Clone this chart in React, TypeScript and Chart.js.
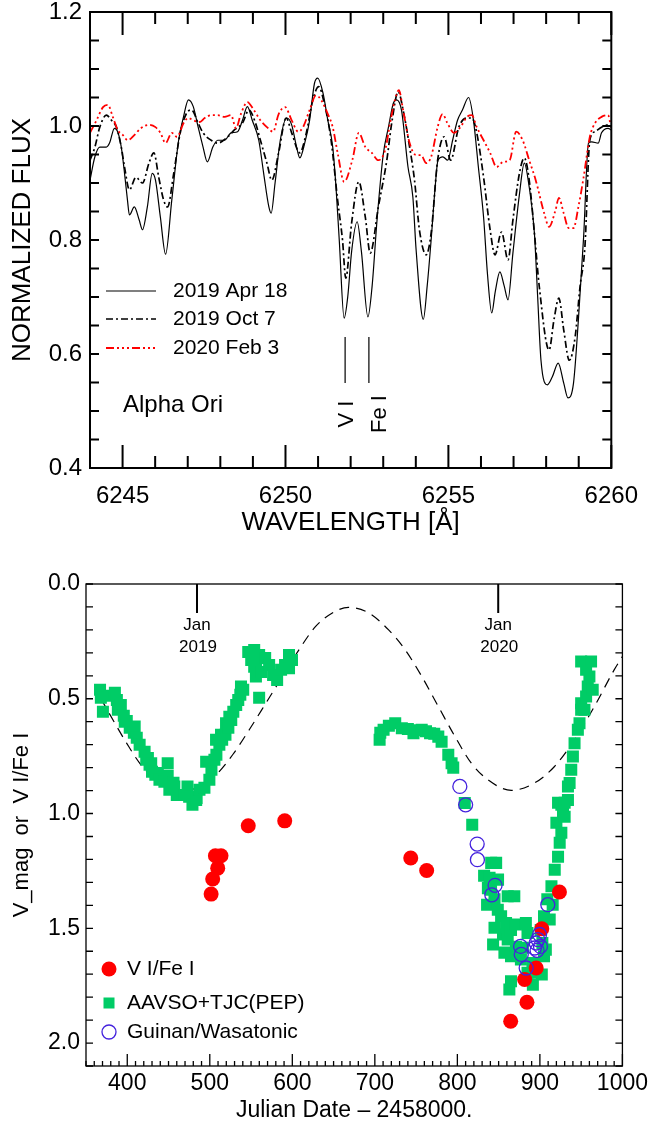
import React, { useEffect, useRef } from 'react';
import { Chart, registerables } from 'chart.js';

Chart.register(...registerables);

const FONT = "'Liberation Sans', Arial, Helvetica, sans-serif";

// ---------------- top panel: spectra ----------------
const waveApr = [6244.00, 6244.15, 6244.30, 6244.50, 6244.60, 6244.75, 6244.85, 6244.96, 6245.06, 6245.15,
  6245.21, 6245.36, 6245.51, 6245.61, 6245.76, 6245.91, 6246.01, 6246.16, 6246.32, 6246.51,
  6246.72, 6246.87, 6247.02, 6247.17, 6247.32, 6247.47, 6247.60, 6247.77, 6247.92, 6248.13,
  6248.33, 6248.53, 6248.68, 6248.83, 6248.98, 6249.18, 6249.33, 6249.49, 6249.56, 6249.68,
  6249.84, 6250.04, 6250.19, 6250.34, 6250.44, 6250.59, 6250.74, 6250.89, 6250.99, 6251.15,
  6251.30, 6251.45, 6251.55, 6251.65, 6251.80, 6251.91, 6252.03, 6252.20, 6252.33, 6252.53,
  6252.66, 6252.81, 6253.00, 6253.16, 6253.31, 6253.41, 6253.56, 6253.76, 6253.91, 6254.01,
  6254.23, 6254.35, 6254.47, 6254.59, 6254.68, 6254.83, 6254.98, 6255.13, 6255.28, 6255.43,
  6255.62, 6255.77, 6255.92, 6256.08, 6256.20, 6256.33, 6256.44, 6256.58, 6256.71, 6256.83,
  6256.98, 6257.18, 6257.33, 6257.48, 6257.64, 6257.74, 6257.84, 6258.04, 6258.19, 6258.37,
  6258.54, 6258.67, 6258.84, 6258.99, 6259.15, 6259.30, 6259.40, 6259.60, 6259.70, 6259.90, 6260.00];
const fluxApr = [0.905, 0.946, 0.963, 0.963, 0.97, 0.996, 0.99, 0.963, 0.917, 0.87,
  0.844, 0.858, 0.835, 0.818, 0.858, 0.917, 0.905, 0.84, 0.775, 0.87,
  0.975, 1.016, 1.046, 1.034, 0.998, 0.963, 0.937, 0.963, 0.975, 0.975,
  0.988, 0.99, 1.01, 1.034, 1.01, 0.975, 0.917, 0.858, 0.847, 0.90,
  0.975, 1.014, 1.002, 0.963, 0.944, 0.97, 1.01, 1.075, 1.084, 1.058,
  1.01, 0.963, 0.893, 0.80, 0.663, 0.70, 0.78, 0.832, 0.78, 0.665,
  0.72, 0.835, 0.95, 0.998, 1.04, 1.046, 1.028, 0.928, 0.875, 0.782,
  0.661, 0.72, 0.80, 0.89, 0.94, 0.946, 0.94, 0.975, 1.01, 1.028,
  1.05, 1.01, 0.928, 0.84, 0.74, 0.672, 0.71, 0.744, 0.72, 0.695,
  0.777, 0.88, 0.935, 0.893, 0.812, 0.70, 0.59, 0.546, 0.56, 0.584,
  0.549, 0.523, 0.549, 0.66, 0.805, 0.97, 0.972, 0.97, 0.988, 0.996, 0.993];

const waveOct = [6244.00, 6244.15, 6244.30, 6244.50, 6244.66, 6244.81, 6244.96, 6245.06, 6245.21, 6245.41,
  6245.61, 6245.81, 6245.96, 6246.11, 6246.26, 6246.38, 6246.57, 6246.77, 6246.97, 6247.12,
  6247.32, 6247.47, 6247.72, 6247.92, 6248.23, 6248.43, 6248.68, 6248.88, 6249.08, 6249.23,
  6249.43, 6249.58, 6249.79, 6250.02, 6250.19, 6250.44, 6250.64, 6250.84, 6251.02, 6251.19,
  6251.40, 6251.60, 6251.75, 6251.85, 6252.03, 6252.25, 6252.45, 6252.60, 6252.85, 6253.11,
  6253.26, 6253.46, 6253.61, 6253.81, 6253.96, 6254.11, 6254.32, 6254.47, 6254.67, 6254.87,
  6255.07, 6255.32, 6255.57, 6255.72, 6255.87, 6256.08, 6256.28, 6256.43, 6256.63, 6256.83,
  6256.98, 6257.18, 6257.33, 6257.48, 6257.64, 6257.79, 6258.09, 6258.24, 6258.39, 6258.54,
  6258.71, 6258.89, 6259.04, 6259.19, 6259.34, 6259.50, 6259.70, 6259.90, 6260.00];
const fluxOct = [0.94, 0.963, 0.998, 1.019, 1.01, 0.998, 0.963, 0.928, 0.888, 0.91,
  0.90, 0.935, 0.953, 0.91, 0.87, 0.858, 0.917, 0.988, 1.023, 1.028,
  1.005, 0.988, 0.975, 0.97, 0.981, 0.993, 1.005, 1.028, 1.005, 0.975,
  0.935, 0.905, 0.953, 1.014, 0.988, 0.953, 0.988, 1.046, 1.069, 1.04,
  0.975, 0.87, 0.80, 0.733, 0.83, 0.902, 0.84, 0.777, 0.858, 0.94,
  1.005, 1.06, 1.028, 0.963, 0.905, 0.818, 0.774, 0.812, 0.94, 0.981,
  0.94, 0.998, 1.014, 1.014, 0.988, 0.91, 0.818, 0.774, 0.814, 0.765,
  0.835, 0.917, 0.944, 0.905, 0.812, 0.718, 0.607, 0.66, 0.698, 0.642,
  0.589, 0.63, 0.718, 0.788, 0.975, 0.99, 0.998, 1.002, 0.998];

const waveFeb = [6244.00, 6244.20, 6244.40, 6244.55, 6244.70, 6244.85, 6245.01, 6245.16, 6245.36, 6245.56,
  6245.81, 6246.01, 6246.16, 6246.32, 6246.51, 6246.67, 6246.87, 6247.02, 6247.17, 6247.37,
  6247.52, 6247.72, 6247.92, 6248.13, 6248.33, 6248.48, 6248.63, 6248.83, 6249.03, 6249.23,
  6249.43, 6249.62, 6249.79, 6249.99, 6250.19, 6250.39, 6250.54, 6250.74, 6250.94, 6251.09,
  6251.30, 6251.45, 6251.60, 6251.80, 6252.05, 6252.25, 6252.45, 6252.65, 6252.85, 6253.06,
  6253.21, 6253.36, 6253.48, 6253.61, 6253.81, 6254.01, 6254.16, 6254.32, 6254.47, 6254.67,
  6254.82, 6254.97, 6255.17, 6255.37, 6255.57, 6255.72, 6255.87, 6256.08, 6256.28, 6256.48,
  6256.68, 6256.88, 6257.08, 6257.28, 6257.48, 6257.68, 6257.94, 6258.09, 6258.29, 6258.39,
  6258.54, 6258.69, 6258.84, 6258.99, 6259.15, 6259.34, 6259.50, 6259.70, 6259.90, 6260.00];
const fluxFeb = [0.988, 1.01, 1.033, 1.037, 1.016, 0.993, 0.984, 0.975, 0.984, 0.996,
  1.002, 0.998, 0.988, 0.97, 0.988, 0.981, 1.005, 1.014, 1.01, 1.007,
  1.014, 1.019, 1.019, 1.016, 1.019, 0.996, 1.021, 1.042, 1.028, 1.01,
  0.998, 0.99, 1.021, 1.033, 1.01, 0.99, 0.998, 1.028, 1.054, 1.046,
  1.021, 0.998, 0.953, 0.902, 0.94, 0.988, 0.963, 0.953, 0.94, 0.958,
  1.005, 1.046, 1.063, 1.028, 0.97, 0.949, 0.949, 0.935, 0.946, 0.998,
  1.021, 1.005, 0.988, 0.998, 1.016, 1.019, 0.998, 0.975, 0.953, 0.928,
  0.937, 0.94, 0.99, 0.975, 0.94, 0.905, 0.847, 0.823, 0.853, 0.874,
  0.847, 0.821, 0.821, 0.858, 0.91, 0.981, 1.005, 1.016, 1.019, 0.995];

const topSeriesLabels = ['2019 Apr 18', '2019 Oct 7', '2020 Feb 3'];
const topXRange = [6244, 6260];
const topYRange = [0.4, 1.2];
const starName = 'Alpha Ori';
const lineIdWave = [6251.83, 6252.56];
const lineIdNames = ['V I', 'Fe I'];
const lineIdFlux = [0.549, 0.63];

// ---------------- bottom panel: light curve ----------------
const vfePoints: [number, number][] = [
  [501.6, 1.351], [503.5, 1.285], [509.6, 1.238], [506.8, 1.184], [513.6, 1.184], [546.6, 1.053],
  [590.8, 1.032], [743.5, 1.194], [762.8, 1.248], [864.6, 1.905], [884.3, 1.822], [881.5, 1.723],
  [895.5, 1.673], [902.3, 1.502], [923.7, 1.342]];

const aavsoPoints: [number, number][] = [
  [367, 0.461], [368, 0.496], [370.5, 0.557], [379, 0.487], [385, 0.474], [387.4, 0.505], [388.6, 0.548],
  [392.2, 0.527], [395.8, 0.574], [397, 0.6], [399.4, 0.597], [403, 0.626], [408, 0.648], [409, 0.621],
  [411.5, 0.67], [415, 0.7], [421, 0.731], [423, 0.766], [425, 0.758], [427, 0.787], [429, 0.781],
  [430, 0.818], [434, 0.831], [437, 0.824], [439, 0.853], [445, 0.862], [449, 0.836], [449, 0.781],
  [451, 0.896], [456, 0.866], [457, 0.882], [460, 0.919], [469, 0.919], [473, 0.882], [475, 0.927],
  [479, 0.962], [483.5, 0.941], [484, 0.932], [487.5, 0.896], [493.5, 0.888], [495.6, 0.774],
  [499.5, 0.853], [502, 0.809], [505.6, 0.766], [507.6, 0.679], [508, 0.744], [511.6, 0.7],
  [513.6, 0.657], [515, 0.679], [519, 0.657], [519.7, 0.607], [522.5, 0.626], [523.7, 0.578],
  [526, 0.592], [528.5, 0.557], [532, 0.527], [534.5, 0.505], [537, 0.483], [537.8, 0.447],
  [540.5, 0.461], [546.6, 0.296], [550.2, 0.331], [553.8, 0.288], [553.8, 0.36], [555.9, 0.403],
  [556.2, 0.366], [559.8, 0.309], [559.8, 0.496], [562.3, 0.383], [567.1, 0.322], [571.9, 0.353],
  [576.7, 0.396], [581.6, 0.418], [586.4, 0.374], [591.2, 0.353], [596, 0.309], [596, 0.367],
  [599.6, 0.331],
  [705.8, 0.679], [706.6, 0.648], [710.6, 0.635], [717, 0.618], [724.7, 0.607], [732.7, 0.628],
  [740, 0.632], [746.8, 0.65], [752, 0.637], [756.8, 0.635], [762, 0.642], [766.9, 0.65], [772, 0.652],
  [776.9, 0.665], [780.9, 0.687], [789, 0.744], [793, 0.781], [795, 0.8], [809, 0.954], [818, 1.049],
  [832.4, 1.271], [836, 1.397], [837, 1.325], [839, 1.28], [840.8, 1.332], [841, 1.215], [843.3, 1.571],
  [845, 1.373], [845, 1.498], [847, 1.215], [849, 1.419], [849.3, 1.288], [853, 1.448], [855.3, 1.527],
  [857, 1.606], [859, 1.477], [861, 1.36], [861, 1.549], [863, 1.767], [865, 1.507], [865, 1.622],
  [865, 1.731], [869, 1.36], [871, 1.581], [871, 1.484], [877, 1.636], [879.4, 1.585], [883, 1.477],
  [885, 1.521], [885, 1.694], [891, 1.651], [891.5, 1.746], [893, 1.694], [901, 1.507], [902.3, 1.701],
  [903, 1.564], [905, 1.622], [905, 1.448], [907.2, 1.593], [909, 1.373], [911.9, 1.462], [914, 1.317],
  [915.5, 1.397], [918, 1.245], [920, 1.04], [922, 1.188], [922, 0.953], [924, 1.127], [926, 1.084],
  [926, 0.962], [928, 0.997], [930, 0.953], [930, 1.014], [934, 0.941], [934, 0.882], [936, 0.867],
  [938, 0.809], [940, 0.752], [942, 0.694], [946, 0.635], [948, 0.607], [950, 0.548], [950, 0.52],
  [954, 0.548], [956, 0.49], [958, 0.447], [960, 0.403], [956, 0.374], [950, 0.338], [962, 0.338],
  [964, 0.461]];

const guinanPoints: [number, number][] = [
  [803, 0.882], [810, 0.962], [824, 1.133], [824.3, 1.201], [845.7, 1.313], [841.7, 1.354],
  [909.6, 1.397], [876.6, 1.579], [877.4, 1.614], [883.4, 1.673], [893.5, 1.586], [895.5, 1.564],
  [897.5, 1.549], [899.6, 1.527], [900.7, 1.579], [896.6, 1.596]];

const modelCurve: [number, number][] = [
  [368, 0.499], [385, 0.607], [399, 0.692], [415, 0.78], [435, 0.853], [455, 0.892], [471.5, 0.899],
  [487.5, 0.882], [507.6, 0.831], [527.7, 0.744], [547.8, 0.635], [568, 0.519], [588, 0.403],
  [608, 0.287], [628, 0.186], [648, 0.127], [668, 0.102], [692.6, 0.126], [716.7, 0.2],
  [736.8, 0.287], [756.9, 0.403], [777, 0.534], [797, 0.664], [817, 0.781], [837, 0.853],
  [865.4, 0.899], [893.5, 0.867], [917.7, 0.795], [941.8, 0.679], [966, 0.534], [990, 0.374],
  [1000, 0.316]];

const bottomSeriesLabels = ['V I/Fe I', 'AAVSO+TJC(PEP)', 'Guinan/Wasatonic'];
const janJD = [484.5, 849.5];
const janLabels = [['Jan', '2019'], ['Jan', '2020']];
const bottomXRange = [350, 1000];
const bottomYRange = [0, 2.1];

const RED = '#ff0000';
const GREEN = '#00cc66';
const BLUE = '#4422dd';
const DASH_OCT = [7, 3, 2, 3];
const DASH_FEB = [8, 3, 2, 3, 2, 3, 2, 3];

const TOP_SHIFT = 20; // top canvas starts 20px above the page

const topPlugin = {
  id: 'topDecor',
  afterDraw(chart: any) {
    const { ctx, chartArea: ca } = chart;
    const xs = chart.scales.x;
    const ys = chart.scales.y;
    ctx.save();
    ctx.strokeStyle = '#000';
    ctx.setLineDash([]);
    ctx.lineWidth = 2;
    ctx.strokeRect(ca.left, ca.top, ca.right - ca.left, ca.bottom - ca.top);
    ctx.beginPath();
    for (let v = topXRange[0]; v <= topXRange[1]; v += 1) {
      const px = xs.getPixelForValue(v);
      const len = v % 5 === 0 ? 23 : 12;
      ctx.moveTo(px, ca.bottom); ctx.lineTo(px, ca.bottom - len);
      ctx.moveTo(px, ca.top); ctx.lineTo(px, ca.top + len);
    }
    for (let k = 0; k <= 16; k++) {
      const py = ys.getPixelForValue(topYRange[0] + k * 0.05);
      ctx.moveTo(ca.left, py); ctx.lineTo(ca.left + 9, py);
      ctx.moveTo(ca.right, py); ctx.lineTo(ca.right - 9, py);
    }
    ctx.stroke();

    // legend
    const ds = chart.data.datasets;
    const ly = [291, 319, 348];
    ctx.font = `21px ${FONT}`;
    ctx.textBaseline = 'middle';
    ctx.textAlign = 'left';
    for (let i = 0; i < 3; i++) {
      const y = ly[i] + TOP_SHIFT;
      ctx.beginPath();
      ctx.strokeStyle = ds[i].borderColor;
      ctx.lineWidth = ds[i].borderWidth;
      ctx.setLineDash(ds[i].borderDash || []);
      ctx.moveTo(106, y); ctx.lineTo(156, y);
      ctx.stroke();
      ctx.fillStyle = '#000';
      ctx.fillText(topSeriesLabels[i], 173, y);
    }
    ctx.setLineDash([]);
    ctx.font = `24px ${FONT}`;
    ctx.fillText(starName, 123, 405 + TOP_SHIFT);

    // line identifications
    ctx.strokeStyle = '#000';
    ctx.lineWidth = 1.2;
    ctx.beginPath();
    for (let i = 0; i < lineIdWave.length; i++) {
      const px = xs.getPixelForValue(lineIdWave[i]);
      ctx.moveTo(px, ys.getPixelForValue(lineIdFlux[1]));
      ctx.lineTo(px, ys.getPixelForValue(lineIdFlux[0]));
    }
    ctx.stroke();
    ctx.font = `22px ${FONT}`;
    ctx.textAlign = 'center';
    const labelX = [347, 380];
    for (let i = 0; i < lineIdNames.length; i++) {
      ctx.save();
      ctx.translate(labelX[i], 414 + TOP_SHIFT);
      ctx.rotate(-Math.PI / 2);
      ctx.fillText(lineIdNames[i], 0, 0);
      ctx.restore();
    }
    ctx.restore();
  },
};

const BOT_TOP = 545;

const bottomPlugin = {
  id: 'bottomDecor',
  afterDraw(chart: any) {
    const { ctx, chartArea: ca } = chart;
    const xs = chart.scales.x;
    const ys = chart.scales.y;
    ctx.save();
    ctx.strokeStyle = '#000';
    ctx.setLineDash([]);
    ctx.lineWidth = 1.3;
    ctx.strokeRect(ca.left, ca.top, ca.right - ca.left, ca.bottom - ca.top);
    ctx.beginPath();
    for (let v = bottomXRange[0]; v <= bottomXRange[1]; v += 10) {
      const px = xs.getPixelForValue(v);
      const len = v % 100 === 0 ? 12 : 5;
      ctx.moveTo(px, ca.bottom); ctx.lineTo(px, ca.bottom - len);
    }
    for (let k = 0; k <= 21; k++) {
      const py = ys.getPixelForValue(k / 10);
      ctx.moveTo(ca.left, py); ctx.lineTo(ca.left + 7, py);
      ctx.moveTo(ca.right, py); ctx.lineTo(ca.right - 7, py);
    }
    ctx.stroke();

    // year markers
    ctx.lineWidth = 2;
    ctx.beginPath();
    janJD.forEach((jd) => {
      const px = xs.getPixelForValue(jd);
      ctx.moveTo(px, ca.top); ctx.lineTo(px, ca.top + 29);
    });
    ctx.stroke();
    ctx.fillStyle = '#000';
    ctx.font = `17px ${FONT}`;
    ctx.textAlign = 'center';
    ctx.textBaseline = 'middle';
    janJD.forEach((jd, i) => {
      const px = xs.getPixelForValue(jd);
      ctx.fillText(janLabels[i][0], px, ca.top + 41);
      ctx.fillText(janLabels[i][1], px + 1, ca.top + 63);
    });

    // legend
    const ly = [969, 1003, 1032].map((v) => v - BOT_TOP);
    const mx = 109;
    ctx.fillStyle = RED;
    ctx.beginPath(); ctx.arc(mx, ly[0], 7.5, 0, Math.PI * 2); ctx.fill();
    ctx.fillStyle = GREEN;
    ctx.fillRect(mx - 5.5, ly[1] - 5.5, 11, 11);
    ctx.strokeStyle = BLUE; ctx.lineWidth = 1.3;
    ctx.beginPath(); ctx.arc(mx, ly[2], 7, 0, Math.PI * 2); ctx.stroke();
    ctx.fillStyle = '#000';
    ctx.font = `21px ${FONT}`;
    ctx.textAlign = 'left';
    for (let i = 0; i < 3; i++) ctx.fillText(bottomSeriesLabels[i], 127, ly[i]);
    ctx.restore();
  },
};

const toXY = (w: number[], f: number[]) => w.map((x, i) => ({ x, y: f[i] }));
const pairsXY = (p: [number, number][]) => p.map(([x, y]) => ({ x, y }));

export default function App() {
  const topRef = useRef<HTMLCanvasElement>(null);
  const botRef = useRef<HTMLCanvasElement>(null);

  useEffect(() => {
    const tickFontTop = { family: FONT, size: 24 };
    const tickFontBot = { family: FONT, size: 23 };
    const top = new Chart(topRef.current as HTMLCanvasElement, {
      type: 'line',
      data: {
        datasets: [
          { label: topSeriesLabels[0], data: toXY(waveApr, fluxApr), borderColor: '#000', borderWidth: 1.2,
            pointRadius: 0, cubicInterpolationMode: 'monotone', order: 3 } as any,
          { label: topSeriesLabels[1], data: toXY(waveOct, fluxOct), borderColor: '#000', borderWidth: 1.7,
            borderDash: DASH_OCT, pointRadius: 0, cubicInterpolationMode: 'monotone', order: 2 } as any,
          { label: topSeriesLabels[2], data: toXY(waveFeb, fluxFeb), borderColor: RED, borderWidth: 1.8,
            borderDash: DASH_FEB, pointRadius: 0, cubicInterpolationMode: 'monotone', order: 1 } as any,
        ],
      },
      options: {
        responsive: false,
        animation: false,
        events: [],
        layout: { padding: { left: 0, right: 32, top: 12 + TOP_SHIFT, bottom: 0 } },
        plugins: { legend: { display: false }, tooltip: { enabled: false } },
        scales: {
          x: {
            type: 'linear', min: topXRange[0], max: topXRange[1],
            afterFit: (s: any) => { s.height = 77; },
            grid: { display: false, drawTicks: false }, border: { display: false },
            ticks: { stepSize: 5, includeBounds: false, padding: 14, color: '#000', font: tickFontTop,
              maxRotation: 0, autoSkip: false, callback: (v: any) => String(v) },
            title: { display: true, text: 'WAVELENGTH [Å]', color: '#000', font: { family: FONT, size: 26 },
              padding: { top: 0, bottom: 7 } },
          },
          y: {
            type: 'linear', min: topYRange[0], max: topYRange[1],
            afterFit: (s: any) => { s.width = 90; },
            grid: { display: false, drawTicks: false }, border: { display: false },
            ticks: { stepSize: 0.2, padding: 8, color: '#000', font: tickFontTop,
              callback: (v: any) => Number(v).toFixed(1) },
            title: { display: true, text: 'NORMALIZED FLUX', color: '#000', font: { family: FONT, size: 26 },
              padding: { top: 7, bottom: 0 } },
          },
        },
      } as any,
      plugins: [topPlugin],
    });

    const bot = new Chart(botRef.current as HTMLCanvasElement, {
      type: 'scatter',
      data: {
        datasets: [
          { label: 'model', data: pairsXY(modelCurve), showLine: true, borderColor: '#000', borderWidth: 1.2,
            borderDash: [10, 7], pointRadius: 0, cubicInterpolationMode: 'monotone', order: 4 } as any,
          { label: bottomSeriesLabels[1], data: pairsXY(aavsoPoints), pointStyle: 'rect', pointRadius: 8.5,
            backgroundColor: GREEN, borderWidth: 0, order: 3 } as any,
          { label: bottomSeriesLabels[0], data: pairsXY(vfePoints), pointStyle: 'circle', pointRadius: 7.5,
            backgroundColor: RED, borderWidth: 0, order: 2 } as any,
          { label: bottomSeriesLabels[2], data: pairsXY(guinanPoints), pointStyle: 'circle', pointRadius: 7,
            backgroundColor: 'rgba(0,0,0,0)', borderColor: BLUE, borderWidth: 1.3, order: 1 } as any,
        ],
      },
      options: {
        responsive: false,
        animation: false,
        events: [],
        layout: { padding: { left: 0, right: 28, top: 39, bottom: 0 } },
        plugins: { legend: { display: false }, tooltip: { enabled: false } },
        scales: {
          x: {
            type: 'linear', min: bottomXRange[0], max: bottomXRange[1],
            afterFit: (s: any) => { s.height = 61; },
            grid: { display: false, drawTicks: false }, border: { display: false },
            ticks: { stepSize: 100, includeBounds: false, padding: 4, color: '#000', font: tickFontBot,
              maxRotation: 0, autoSkip: false, callback: (v: any) => String(v) },
            title: { display: true, text: 'Julian Date \u2013 2458000.', color: '#000',
              font: { family: FONT, size: 23 }, padding: { top: 0, bottom: 3 } },
          },
          y: {
            type: 'linear', min: bottomYRange[0], max: bottomYRange[1], reverse: true,
            afterFit: (s: any) => { s.width = 86; },
            grid: { display: false, drawTicks: false }, border: { display: false },
            ticks: { stepSize: 0.5, includeBounds: false, padding: 6, color: '#000', font: tickFontBot,
              callback: (v: any) => Number(v).toFixed(1) },
            title: { display: true, text: 'V_mag  or  V I/Fe I', color: '#000', font: { family: FONT, size: 22 },
              padding: { top: 9, bottom: 0 } },
          },
        },
      } as any,
      plugins: [bottomPlugin],
    });

    return () => { top.destroy(); bot.destroy(); };
  }, []);

  return (
    <div style={{ position: 'absolute', left: 0, top: 0, width: 652, height: 1127, overflow: 'hidden', background: '#fff' }}>
      <canvas ref={topRef} width={652} height={565}
        style={{ position: 'absolute', left: 0, top: -TOP_SHIFT, width: 652, height: 565 }} />
      <canvas ref={botRef} width={652} height={582}
        style={{ position: 'absolute', left: 0, top: BOT_TOP, width: 652, height: 582 }} />
    </div>
  );
}
